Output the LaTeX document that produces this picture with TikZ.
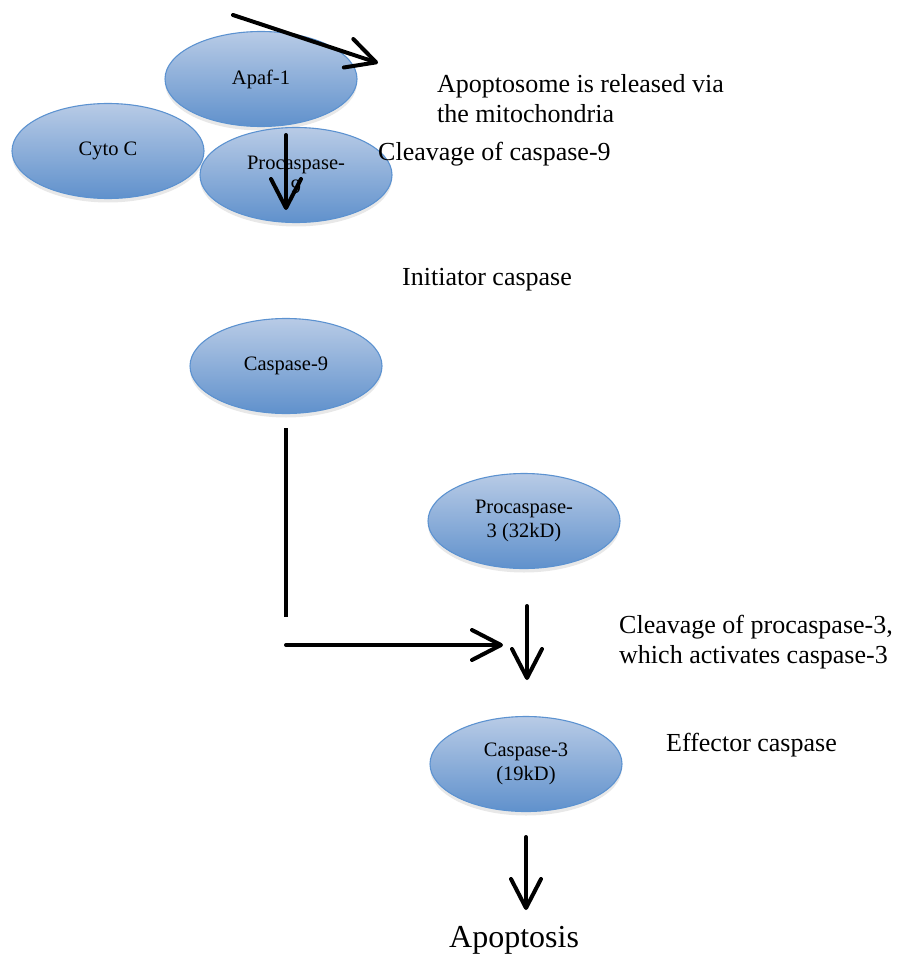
\documentclass[tikz,border=0pt]{standalone}
\usepackage{fontspec}
\setmainfont{Liberation Serif}
\usetikzlibrary{shapes.geometric,arrows.meta,shadows}
\definecolor{topblue}{RGB}{184,203,230}
\definecolor{botblue}{RGB}{96,145,204}
\definecolor{edgeblue}{RGB}{92,146,208}
\tikzset{
  ellip/.style={ellipse, minimum width=192pt, minimum height=95pt, inner sep=0pt,
    draw=edgeblue, line width=1.1pt, top color=topblue, bottom color=botblue,
    font=\fontsize{20.5}{23.5}\selectfont, align=center,
    drop shadow={opacity=0.18, shadow xshift=0pt, shadow yshift=-4pt}},
  lbl/.style={inner sep=0pt, font=\fontsize{26}{30}\selectfont, align=left},
  arr/.style={line width=4pt, line cap=round, -{Straight Barb[length=29pt,width=30pt,round]}},
  plain/.style={line width=4pt}
}
\begin{document}
\begin{tikzpicture}[x=1pt,y=-1pt]
\useasboundingbox (0,0) rectangle (900,955);
% ellipses
\node[ellip] (apaf) at (261,79) {Apaf-1};
\node[ellip] (cyto) at (108,151) {Cyto C};
\node[ellip] (pro9) at (296,175) {Procaspase-\\9};
\node[ellip] (cas9) at (286,366) {Caspase-9};
\node[ellip] (pro3) at (524,521) {Procaspase-\\3 (32kD)};
\node[ellip] (cas3) at (526,764) {Caspase-3\\(19kD)};
% labels
\node[lbl, anchor=north west] (lrel) at (437,74) {Apoptosome is released via\\the mitochondria};
\node[lbl, anchor=base west] (lcl9) at (378,160) {Cleavage of caspase-9};
\node[lbl, anchor=base west] (linit) at (402,285) {Initiator caspase};
\node[lbl, anchor=north west] (lcl3) at (619,615) {Cleavage of procaspase-3,\\which activates caspase-3};
\node[lbl, anchor=base west] (leff) at (666,751) {Effector caspase};
\node[inner sep=0pt, anchor=base west, font=\fontsize{32}{36}\selectfont] (apop) at (449,947) {Apoptosis};
% connector coordinates
\coordinate (t1) at (233,15);
\coordinate (t2) at (378,63);
\coordinate (d1) at (286,135);
\coordinate (d2) at (286,210);
\coordinate (v1) at (286,428);
\coordinate (v2) at (286,617);
\coordinate (h1) at (286,645);
\coordinate (h2) at (503,645);
\coordinate (e1) at (527,606);
\coordinate (e2) at (527,680);
\coordinate (f1) at (526,837);
\coordinate (f2) at (526,910);
% connectors
\draw[arr] (t1) -- (t2);
\draw[arr] (d1) -- (d2);
\draw[plain] (v1) -- (v2);
\draw[arr] (h1) -- (h2);
\draw[arr] (e1) -- (e2);
\draw[arr] (f1) -- (f2);
\end{tikzpicture}
\end{document}
